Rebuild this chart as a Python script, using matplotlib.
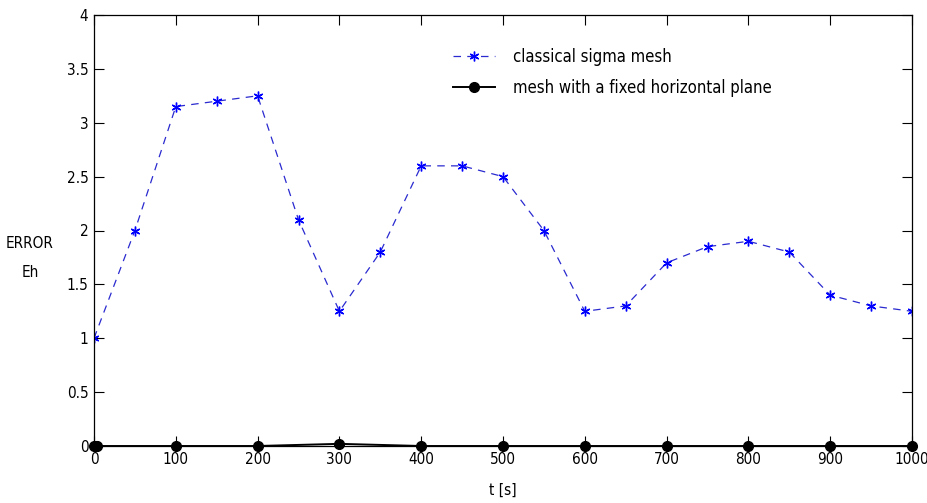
import matplotlib
matplotlib.use("Agg")
import matplotlib.pyplot as plt

t_sigma = [0, 50, 100, 150, 200, 250, 300, 350, 400, 450, 500, 550, 600, 650, 700, 750, 800, 850, 900, 950, 1000]
err_sigma = [1.0, 2.0, 3.15, 3.2, 3.25, 2.1, 1.25, 1.8, 2.6, 2.6, 2.5, 2.0, 1.25, 1.3, 1.7, 1.85, 1.9, 1.8, 1.4, 1.3, 1.25]
t_fixed = [0, 2, 4, 100, 200, 300, 400, 500, 600, 700, 800, 900, 1000]
err_fixed = [0.0, 0.0, 0.0, 0.0, 0.0, 0.02, 0.0, 0.0, 0.0, 0.0, 0.0, 0.0, 0.0]
xticks = [0, 100, 200, 300, 400, 500, 600, 700, 800, 900, 1000]
yticks = [0, 0.5, 1, 1.5, 2, 2.5, 3, 3.5, 4]
yticklabels = ["0", "0.5", "1", "1.5", "2", "2.5", "3", "3.5", "4"]

plt.rcParams['font.family'] = ['DejaVu Sans']
plt.rcParams['font.stretch'] = 'condensed'

fig = plt.figure(figsize=(9.28, 5.03), dpi=100)
ax = fig.add_axes([94/928, 1-446/503, (912-94)/928, (446-15)/503])

ax.plot(t_sigma, err_sigma, linestyle=(0, (6, 5)), color='#2a2ad0', linewidth=0.9,
        marker=(6, 2, 0), markersize=7, markeredgewidth=1.0, markerfacecolor='#0000ff', markeredgecolor='#0000ff',
        label='classical sigma mesh')
ax.plot(t_fixed, err_fixed, linestyle='-', color='black', linewidth=1.4,
        marker='o', markersize=7, label='mesh with a fixed horizontal plane', clip_on=False, zorder=5)

ax.set_xlim(0, 1000)
ax.set_ylim(0, 4)
ax.set_xticks(xticks)
ax.set_yticks(yticks)
ax.set_yticklabels(yticklabels)
ax.tick_params(direction='in', top=True, right=True, length=7, labelsize=11, width=0.8, pad=4)
for s in ax.spines.values():
    s.set_linewidth(0.9)

ax.set_xlabel('t [s]', fontsize=11, labelpad=12)
fig.text(30/928, 1-258/503, 'ERROR\nEh', fontsize=11, ha='center', va='center', linespacing=2.1)

leg = ax.legend(loc='upper left', bbox_to_anchor=(344/818, 1-18/431), frameon=False, fontsize=12,
                handlelength=2.5, handletextpad=1.1, labelspacing=0.8)

fig.savefig('out.png', dpi=100)
